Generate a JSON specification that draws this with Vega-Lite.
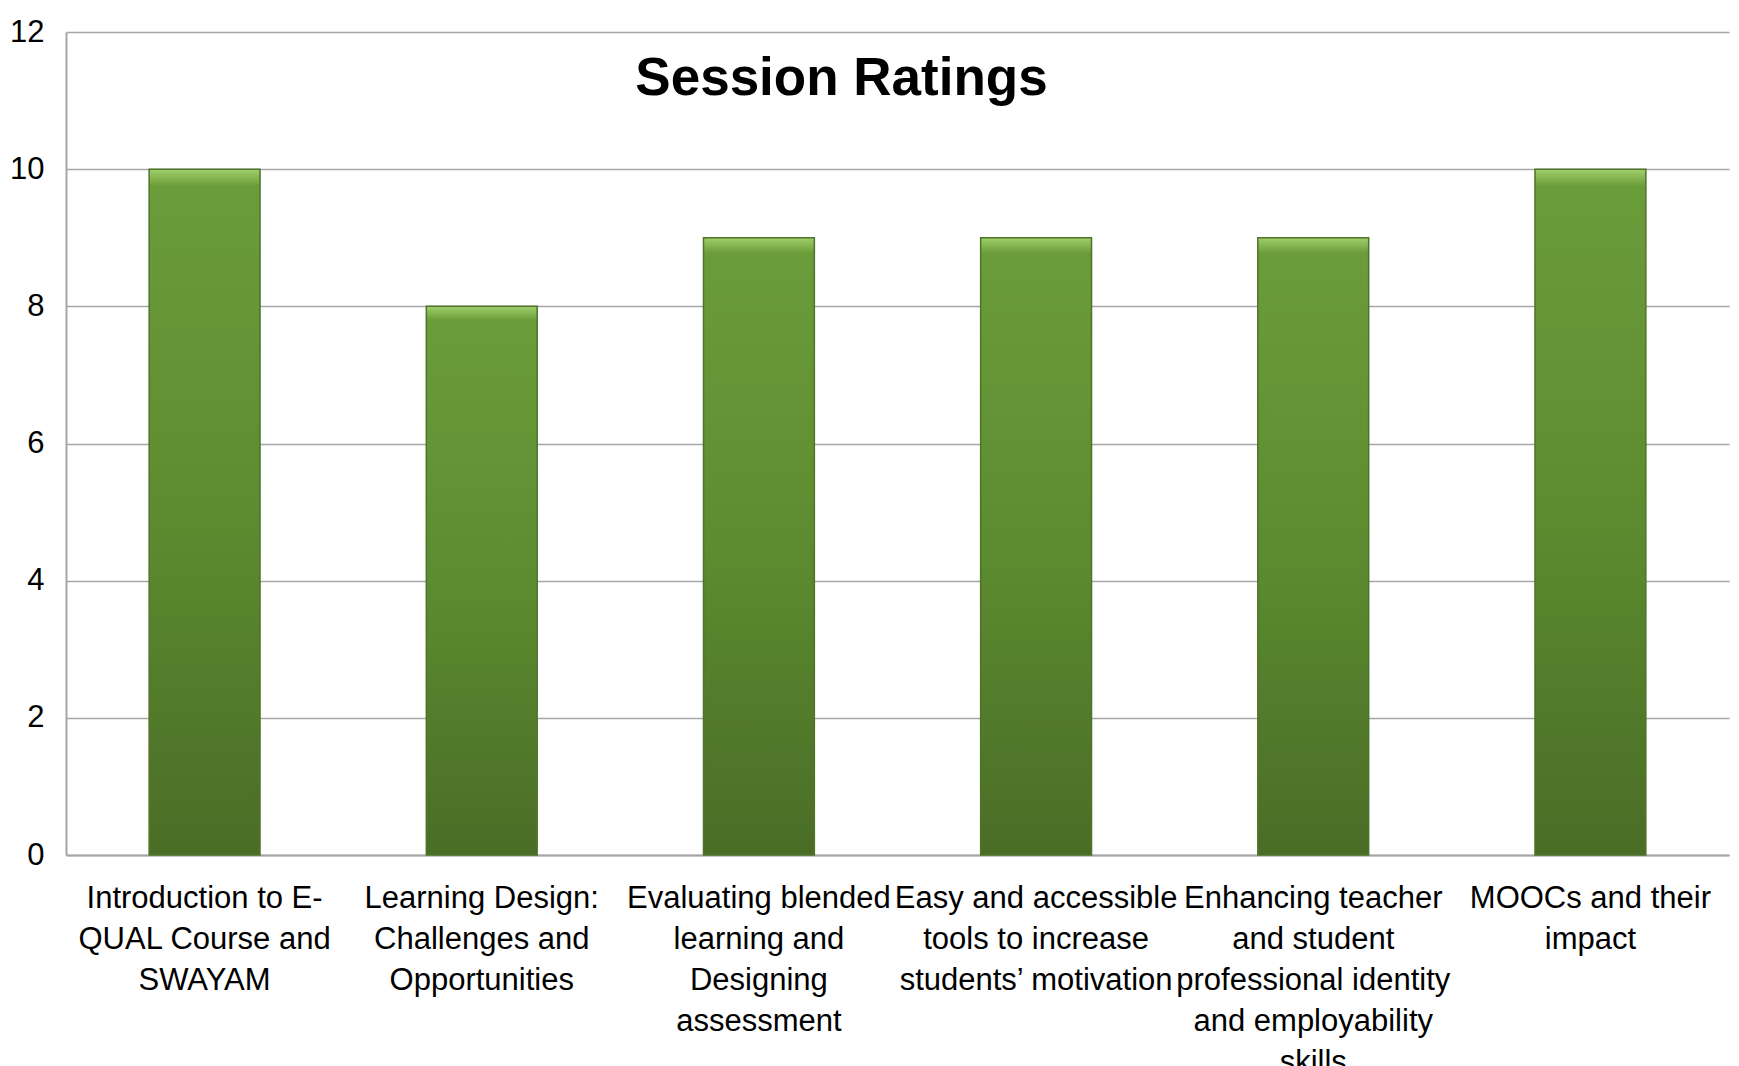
{
  "$schema": "https://vega.github.io/schema/vega-lite/v6.json",
  "width": 1663,
  "height": 823,
  "autosize": "none",
  "padding": {"left": 66, "top": 32, "right": 10, "bottom": 211},
  "background": "white",
  "title": {
    "text": "Session Ratings",
    "font": "Liberation Sans",
    "fontSize": 53,
    "fontWeight": "bold",
    "color": "#000000",
    "anchor": "middle",
    "frame": "group",
    "baseline": "alphabetic",
    "offset": 0,
    "dy": 132,
    "dx": -56
  },
  "data": {
    "values": [
      {"session": "Introduction to E-|QUAL Course and|SWAYAM", "rating": 10},
      {"session": "Learning Design:|Challenges and|Opportunities", "rating": 8},
      {"session": "Evaluating blended|learning and|Designing|assessment", "rating": 9},
      {"session": "Easy and accessible|tools to increase|students’ motivation", "rating": 9},
      {"session": "Enhancing teacher|and student|professional identity|and employability|skills", "rating": 9},
      {"session": "MOOCs and their|impact", "rating": 10}
    ]
  },
  "mark": {
    "type": "bar",
    "fill": {
      "x1": 0, "y1": 0, "x2": 0, "y2": 1,
      "gradient": "linear",
      "stops": [
        {"offset": 0, "color": "#9fd06a"},
        {"offset": 0.025, "color": "#6b9c3a"},
        {"offset": 0.5, "color": "#5d8c30"},
        {"offset": 1, "color": "#4a6d26"}
      ]
    },
    "stroke": "#4f7329",
    "strokeWidth": 1.5
  },
  "encoding": {
    "x": {
      "field": "session",
      "type": "nominal",
      "sort": null,
      "scale": {"paddingInner": 0.6, "paddingOuter": 0.3},
      "axis": {
        "title": null,
        "labelAngle": 0,
        "labelExpr": "split(datum.value, '|')",
        "labelFont": "Liberation Sans",
        "labelFontSize": 31,
        "labelLineHeight": 41,
        "labelColor": "#000000",
        "labelBaseline": "top",
        "labelPadding": 28,
        "labelLimit": 0,
        "ticks": false,
        "domainColor": "#a6a6a6",
        "domainWidth": 2,
        "grid": false
      }
    },
    "y": {
      "field": "rating",
      "type": "quantitative",
      "scale": {"domain": [0, 12], "nice": false},
      "axis": {
        "title": null,
        "values": [0, 2, 4, 6, 8, 10, 12],
        "labelFont": "Liberation Sans",
        "labelFontSize": 31,
        "labelColor": "#000000",
        "labelPadding": 22,
        "ticks": false,
        "domainColor": "#a6a6a6",
        "domainWidth": 2,
        "grid": true,
        "gridColor": "#a6a6a6",
        "gridWidth": 1.5
      }
    }
  },
  "config": {"view": {"stroke": null}}
}
